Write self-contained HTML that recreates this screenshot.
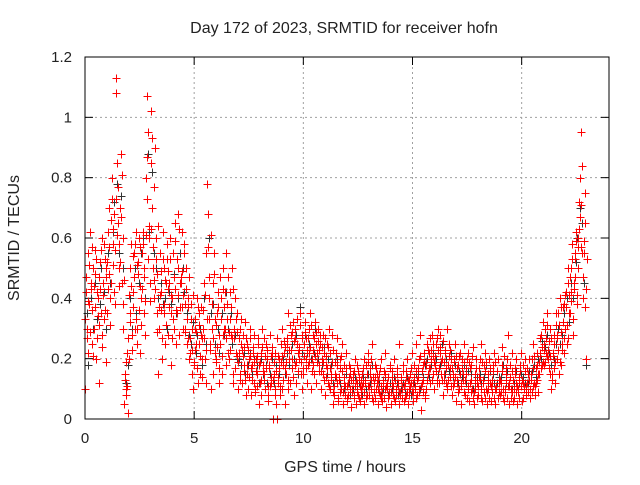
<!DOCTYPE html>
<html><head><meta charset="utf-8"><style>
body{margin:0;background:#fff}
svg text{font-family:"Liberation Sans",sans-serif;font-size:15px;fill:#222}
svg text.big{font-size:16px}
</style></head><body>
<svg id="chart" width="640" height="480" xmlns="http://www.w3.org/2000/svg">
<text class="big" x="344" y="33" text-anchor="middle">Day 172 of 2023, SRMTID for receiver hofn</text>
<text class="big" transform="translate(19,238) rotate(-90)" text-anchor="middle">SRMTID / TECUs</text>
<text class="big" x="345" y="472" text-anchor="middle">GPS time / hours</text>
<g id="grid"></g>
<g id="ticks"></g>
<g id="black" stroke="#333" stroke-width="1"></g>
<g id="red" stroke="#f00" stroke-width="1"></g>
<rect x="85" y="57" width="524" height="362" fill="none" stroke="#000" stroke-width="1"/>
</svg>
<script>
const xTicks=[0,5,10,15,20];
const yTicks=[0,0.2,0.4,0.6,0.8,1,1.2];
const yTickLabels=["0","0.2","0.4","0.6","0.8","1","1.2"];
const hours=[0,0.2,0.4,0.6,0.8,1,1.2,1.4,1.6,1.8,2,2.2,2.4,2.6,2.8,3,3.2,3.4,3.6,3.8,4,4.2,4.4,4.6,4.8,5,5.2,5.4,5.6,5.8,6,6.2,6.4,6.6,6.8,7,7.2,7.4,7.6,7.8,8,8.2,8.4,8.6,8.8,9,9.2,9.4,9.6,9.8,10,10.2,10.4,10.6,10.8,11,11.2,11.4,11.6,11.8,12,12.2,12.4,12.6,12.8,13,13.2,13.4,13.6,13.8,14,14.2,14.4,14.6,14.8,15,15.2,15.4,15.6,15.8,16,16.2,16.4,16.6,16.8,17,17.2,17.4,17.6,17.8,18,18.2,18.4,18.6,18.8,19,19.2,19.4,19.6,19.8,20,20.2,20.4,20.6,20.8,21,21.2,21.4,21.6,21.8,22,22.2,22.4,22.6,22.8];
const redValues=[[.10,.42,.30,.55,.22],[.38,.62,.45,.25,.50],[.30,.48,.56,.20,.42],[.40,.12,.52,.35,.60],[.28,.45,.58,.36,.50],[.35,.62,.48,.70,.40],[.45,.80,.58,.68,.38],[1.13,1.08,.85,.65,.50],[.70,.88,.45,.60,.30],[.05,.15,.10,.22,.02],[.20,.35,.50,.58,.28],[.42,.55,.30,.62,.25],[.30,.48,.60,.22,.40],[.55,.62,.35,.50,.28],[.80,1.07,.95,.60,.45],[.85,1.02,.70,.50,.40],[.90,.60,.35,.48,.15],[.30,.55,.42,.20,.62],[.35,.50,.25,.45,.58],[.28,.45,.60,.35,.18],[.40,.55,.30,.65,.25],[.35,.68,.50,.28,.45],[.45,.62,.30,.55,.38],[.30,.50,.25,.40,.20],[.22,.38,.15,.30,.10],[.18,.30,.25,.40,.12],[.25,.35,.15,.28,.20],[.30,.45,.20,.55,.12],[.78,.68,.40,.25,.10],[.30,.45,.15,.55,.22],[.20,.35,.42,.12,.28],[.25,.40,.15,.50,.30],[.30,.55,.18,.38,.22],[.20,.42,.28,.50,.15],[.12,.30,.40,.22,.35],[.10,.22,.30,.15,.25],[.12,.28,.18,.32,.08],[.15,.25,.10,.20,.30],[.08,.18,.22,.12,.28],[.10,.20,.15,.25,.05],[.12,.22,.08,.30,.18],[.15,.10,.25,.20,.06],[.08,.18,.28,.12,.22],[.00,.15,.10,.22,.05],[.00,.12,.20,.08,.25],[.10,.30,.18,.22,.05],[.15,.25,.35,.10,.20],[.12,.28,.20,.32,.08],[.18,.30,.12,.25,.22],[.20,.35,.15,.28,.10],[.15,.25,.32,.20,.12],[.18,.30,.22,.35,.10],[.20,.28,.15,.32,.25],[.12,.22,.30,.18,.25],[.10,.20,.28,.15,.22],[.08,.18,.25,.12,.30],[.10,.22,.15,.28,.05],[.08,.15,.22,.12,.18],[.06,.14,.20,.10,.25],[.05,.12,.18,.08,.22],[.06,.12,.18,.10,.15],[.04,.10,.15,.08,.20],[.05,.12,.18,.08,.14],[.06,.10,.15,.12,.20],[.05,.12,.18,.08,.22],[.08,.15,.20,.10,.25],[.06,.12,.18,.10,.15],[.05,.10,.15,.08,.20],[.06,.12,.16,.10,.22],[.04,.10,.14,.08,.18],[.05,.12,.16,.08,.20],[.06,.10,.15,.12,.25],[.05,.08,.14,.10,.18],[.06,.12,.16,.08,.20],[.05,.10,.15,.12,.22],[.06,.12,.18,.10,.25],[.08,.14,.20,.10,.28],[.03,.12,.18,.22,.08],[.10,.18,.25,.15,.22],[.12,.20,.28,.15,.25],[.10,.18,.25,.12,.30],[.12,.22,.28,.15,.20],[.08,.15,.22,.12,.30],[.10,.18,.25,.14,.20],[.08,.15,.20,.12,.25],[.06,.12,.18,.10,.22],[.05,.12,.20,.15,.25],[.08,.15,.20,.10,.22],[.06,.12,.18,.10,.24],[.05,.10,.15,.20,.12],[.08,.14,.20,.10,.25],[.06,.12,.18,.22,.10],[.05,.10,.15,.20,.12],[.06,.12,.18,.22,.10],[.05,.10,.16,.20,.12],[.08,.12,.18,.24,.10],[.06,.10,.15,.20,.28],[.05,.12,.18,.10,.22],[.06,.10,.15,.20,.12],[.05,.10,.14,.18,.22],[.06,.12,.18,.10,.20],[.08,.12,.15,.20,.10],[.10,.15,.20,.25,.12],[.08,.12,.18,.22,.15],[.15,.22,.28,.18,.32],[.18,.25,.30,.22,.35],[.20,.26,.15,.30,.10],[.15,.22,.28,.12,.35],[.20,.28,.35,.15,.40],[.18,.25,.32,.22,.38],[.30,.42,.25,.50,.35],[.35,.50,.42,.58,.28],[.45,.55,.62,.38,.50],[.60,.72,.80,.95,.55],[.40,.55,.65,.75,.20]];
const redValues2=[[.33,.47,.27,.39,.51],[.29,.43,.57,.36,.21],[.44,.37,.53,.27,.34],[.47,.31,.43,.56,.24],[.41,.33,.53,.47,.19],[.52,.43,.57,.31,.66],[.73,.51,.63,.42,.56],[.73,.61,.77,.44,.58],[.52,.67,.81,.38,.46],[.13,.08,.19,.11,.27],[.41,.32,.44,.23,.54],[.37,.47,.58,.33,.51],[.52,.36,.44,.57,.31],[.43,.58,.47,.39,.61],[.73,.87,.53,.64,.39],[.63,.93,.57,.77,.46],[.43,.53,.29,.64,.37],[.41,.36,.49,.27,.53],[.38,.46,.31,.53,.43],[.49,.37,.53,.41,.27],[.33,.47,.59,.43,.36],[.53,.41,.63,.37,.47],[.37,.49,.41,.58,.29],[.43,.33,.37,.27,.47],[.27,.33,.23,.41,.19],[.33,.23,.29,.17,.37],[.31,.21,.37,.27,.14],[.36,.27,.41,.23,.33],[.57,.33,.47,.23,.61],[.38,.27,.48,.33,.19],[.31,.24,.37,.17,.47],[.33,.21,.43,.28,.37],[.42,.27,.33,.47,.29],[.33,.23,.37,.27,.43],[.27,.17,.33,.21,.29],[.19,.27,.13,.33,.23],[.21,.16,.24,.13,.27],[.18,.23,.14,.27,.21],[.17,.13,.24,.19,.09],[.16,.21,.11,.27,.18],[.19,.13,.24,.16,.27],[.13,.21,.17,.23,.11],[.17,.11,.21,.14,.24],[.13,.19,.08,.16,.27],[.14,.21,.17,.11,.19],[.21,.13,.26,.17,.24],[.19,.27,.13,.23,.31],[.23,.17,.29,.14,.26],[.27,.19,.33,.16,.23],[.24,.31,.19,.27,.17],[.21,.29,.17,.27,.23],[.27,.19,.24,.31,.16],[.23,.18,.27,.21,.29],[.19,.26,.16,.23,.28],[.16,.24,.19,.13,.27],[.14,.21,.17,.24,.11],[.17,.13,.19,.23,.09],[.11,.19,.14,.27,.07],[.13,.17,.09,.21,.16],[.09,.14,.11,.17,.07],[.11,.08,.14,.17,.13],[.09,.13,.07,.16,.11],[.13,.09,.16,.07,.11],[.08,.13,.11,.17,.09],[.13,.07,.15,.11,.19],[.11,.17,.13,.07,.14],[.09,.14,.07,.17,.12],[.13,.09,.17,.11,.07],[.09,.13,.07,.15,.11],[.12,.07,.14,.09,.17],[.09,.14,.11,.07,.13],[.13,.08,.17,.11,.09],[.09,.13,.07,.11,.16],[.11,.07,.14,.09,.13],[.13,.08,.11,.17,.09],[.09,.14,.11,.07,.16],[.13,.17,.09,.21,.11],[.16,.09,.13,.19,.07],[.19,.13,.23,.17,.27],[.17,.23,.13,.21,.19],[.21,.16,.27,.13,.23],[.17,.24,.19,.13,.26],[.19,.13,.23,.17,.11],[.13,.21,.17,.23,.11],[.17,.11,.19,.14,.21],[.13,.17,.09,.21,.15],[.11,.17,.13,.09,.19],[.13,.17,.07,.11,.19],[.17,.09,.13,.21,.07],[.09,.13,.17,.07,.11],[.11,.17,.13,.07,.19],[.13,.09,.16,.07,.19],[.09,.13,.07,.17,.11],[.13,.09,.16,.07,.19],[.11,.16,.07,.13,.09],[.13,.09,.16,.07,.21],[.09,.13,.17,.07,.11],[.11,.14,.07,.16,.09],[.13,.07,.17,.09,.11],[.09,.13,.07,.16,.11],[.13,.07,.11,.16,.09],[.11,.17,.09,.13,.07],[.13,.09,.17,.11,.21],[.11,.17,.13,.09,.19],[.21,.27,.17,.24,.19],[.23,.19,.27,.21,.31],[.23,.17,.21,.27,.13],[.21,.17,.25,.19,.31],[.27,.23,.31,.19,.37],[.29,.23,.37,.27,.41],[.37,.31,.45,.27,.41],[.47,.39,.53,.33,.43],[.53,.47,.59,.41,.57],[.63,.67,.57,.71,.84],[.47,.59,.37,.43,.53]];
const blackValues=[[.35,.18],[.40,.30],[.45,.33],[.38,.50],[.42,.30],[.55,.45],[.62,.72],[.78,.55],[.74,.50],[.12,.18],[.40,.30],[.50,.35],[.45,.55],[.60,.40],[.88,.62],[.82,.55],[.50,.40],[.45,.38],[.40,.30],[.42,.38],[.48,.35],[.40,.55],[.50,.42],[.35,.28],[.25,.32],[.22,.28],[.30,.18],[.40,.25],[.60,.35],[.38,.25],[.30,.22],[.35,.28],[.42,.30],[.35,.25],[.28,.20],[.20,.18],[.22,.15],[.18,.22],[.15,.20],[.18,.12],[.20,.15],[.18,.12],[.15,.20],[.12,.18],[.15,.10],[.20,.15],[.22,.18],[.25,.20],[.28,.15],[.37,.22],[.28,.22],[.25,.20],[.22,.30],[.20,.25],[.18,.24],[.15,.20],[.18,.12],[.14,.20],[.12,.16],[.10,.15],[.12,.08],[.10,.14],[.10,.12],[.08,.14],[.10,.15],[.12,.18],[.14,.10],[.12,.08],[.10,.14],[.08,.12],[.10,.14],[.12,.08],[.10,.12],[.09,.14],[.10,.08],[.12,.15],[.15,.10],[.14,.18],[.20,.14],[.18,.22],[.20,.15],[.18,.25],[.15,.20],[.16,.22],[.14,.18],[.12,.16],[.14,.18],[.12,.16],[.15,.10],[.12,.14],[.15,.12],[.14,.18],[.12,.16],[.15,.12],[.12,.14],[.14,.18],[.12,.16],[.14,.10],[.12,.16],[.12,.15],[.14,.12],[.12,.16],[.16,.18],[.14,.20],[.20,.26],[.24,.28],[.22,.18],[.20,.25],[.30,.25],[.28,.35],[.40,.32],[.45,.40],[.52,.60],[.70,.65],[.45,.18]];
const X0=85,X1=609,Y0=419,Y1=57,XMAX=24,YMAX=1.2;
const xs=v=>X0+(X1-X0)*v/XMAX;
const ys=v=>Y0-(Y0-Y1)*v/YMAX;
const NS="http://www.w3.org/2000/svg";
function mk(tag,attrs,parent){const e=document.createElementNS(NS,tag);for(const k in attrs)e.setAttribute(k,attrs[k]);parent.appendChild(e);return e;}
const grid=document.getElementById('grid'),ticks=document.getElementById('ticks');
yTicks.forEach((v,i)=>{const y=ys(v);
 if(i>0&&i<yTicks.length-1){const l=mk('line',{x1:X0,x2:X1,y1:y,y2:y,stroke:'#a0a0a0','stroke-dasharray':'2,3'},grid);
 
 }
 mk('line',{x1:X0,x2:X0+8,y1:y,y2:y,stroke:'#000'},ticks);
 mk('line',{x1:X1-8,x2:X1,y1:y,y2:y,stroke:'#000'},ticks);
 const t=mk('text',{x:72,y:y+5,'text-anchor':'end'},ticks);t.textContent=yTickLabels[i];
 
 });
xTicks.forEach(v=>{const x=xs(v);
 if(v>0){const l=mk('line',{x1:x,x2:x,y1:Y0,y2:Y1,stroke:'#a0a0a0','stroke-dasharray':'2,3'},grid);
 
 }
 mk('line',{x1:x,x2:x,y1:Y0,y2:Y0-8,stroke:'#000'},ticks);
 mk('line',{x1:x,x2:x,y1:Y1,y2:Y1+8,stroke:'#000'},ticks);
 const t=mk('text',{x:x,y:443,'text-anchor':'middle'},ticks);t.textContent=String(v);
 
 });
function plus(g,h,v){const x=Math.round(xs(h))+0.5,y=Math.round(ys(v))+0.5;
 const p=mk('path',{d:`M${x-4} ${y}H${x+4}M${x} ${y-4}V${y+4}`},g);
 
 }
const bg=document.getElementById('black'),rg=document.getElementById('red');
hours.forEach((h,i)=>{blackValues[i].forEach((v,k)=>plus(bg,h+0.07+k*0.08,v));});
hours.forEach((h,i)=>{redValues[i].forEach((v,k)=>plus(rg,h+k*0.04,v));});
hours.forEach((h,i)=>{redValues2[i].forEach((v,k)=>plus(rg,h+0.02+k*0.04,v));});
</script>
</body></html>
